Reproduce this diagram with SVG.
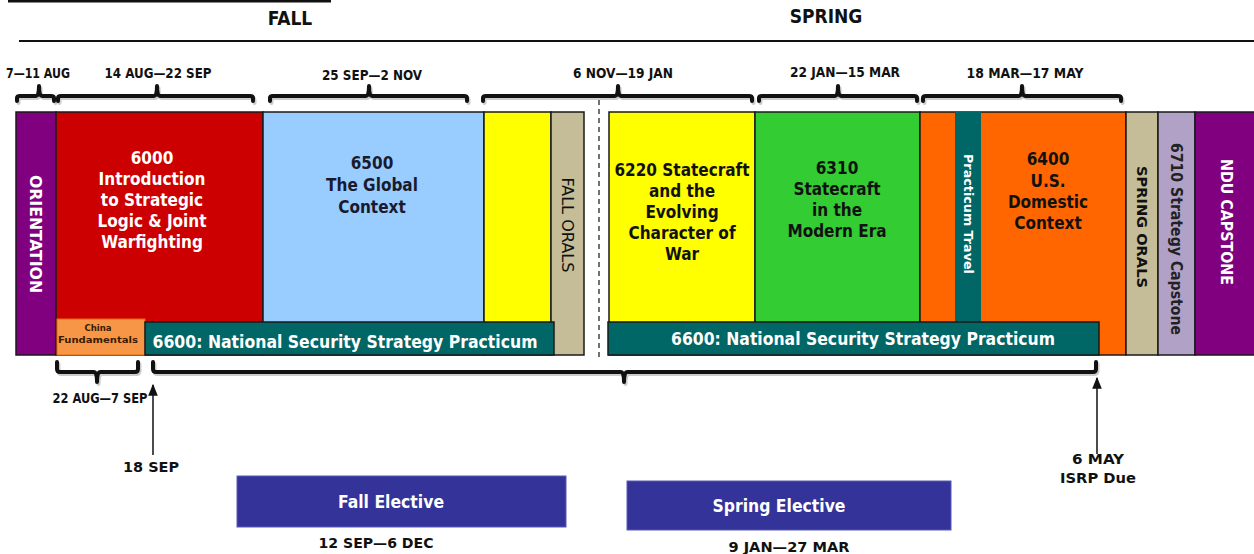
<svg xmlns="http://www.w3.org/2000/svg" width="1254" height="554" viewBox="0 0 1254 554">
<defs>
<style>
.col{stroke:#1a1a1a;stroke-width:1.5}
.t{font-family:"DejaVu Sans Condensed","DejaVu Sans",sans-serif;font-weight:bold;text-anchor:middle}
.w{fill:#ffffff}
.k{fill:#111111}
.brace{fill:none;stroke:#111;stroke-width:4;stroke-linejoin:round;stroke-linecap:round}
.shadow{fill:none;stroke:#999;stroke-width:4;stroke-linejoin:round;stroke-linecap:round;opacity:0.5}
.date{font-family:"DejaVu Sans Condensed","DejaVu Sans",sans-serif;font-weight:bold;font-size:14px;fill:#111;text-anchor:middle}
.arrow{stroke:#111;stroke-width:1.5;fill:none}
</style>
<marker id="ah" viewBox="0 0 10 10" refX="9" refY="5" markerWidth="8" markerHeight="8" orient="auto"><path d="M0,1 L10,5 L0,9 Z" fill="#111"/></marker>
</defs>
<rect width="1254" height="554" fill="#ffffff"/>

<g id="header">
<line x1="8" y1="1" x2="331" y2="1" stroke="#111" stroke-width="3"/>
<line x1="19" y1="41" x2="1254" y2="41" stroke="#111" stroke-width="2"/>
<text class="t k" x="290" y="25" font-size="19">FALL</text>
<text class="t k" x="826" y="23" font-size="19">SPRING</text>
</g>

<g id="connectors">
<g transform="translate(1.5,2)">
<path class="shadow" d="M17,101 L17,98 Q17,96 20,96 L36,96 Q39,96 39,86 Q39,96 42,96 L51,96 Q54,96 54,98 L54,101"/>
<path class="shadow" d="M58,101 L58,98 Q58,96 61,96 L154,96 Q157,96 157,86 Q157,96 160,96 L250,96 Q253,96 253,98 L253,101"/>
<path class="shadow" d="M270,101 L270,98 Q270,96 273,96 L366,96 Q369,96 369,86 Q369,96 372,96 L464,96 Q467,96 467,98 L467,101"/>
<path class="shadow" d="M483,101 L483,98 Q483,96 486,96 L615,96 Q618,96 618,86 Q618,96 621,96 L749,96 Q752,96 752,98 L752,101"/>
<path class="shadow" d="M759,101 L759,98 Q759,96 762,96 L835,96 Q838,96 838,86 Q838,96 841,96 L914,96 Q917,96 917,98 L917,101"/>
<path class="shadow" d="M923,101 L923,98 Q923,96 926,96 L1019,96 Q1022,96 1022,86 Q1022,96 1025,96 L1118,96 Q1121,96 1121,98 L1121,101"/>
<path class="shadow" d="M57,362 L57,369 Q57,372 60,372 L94,372 Q97,372 97,382 Q97,372 100,372 L135,372 Q138,372 138,369 L138,362"/>
<path class="shadow" d="M153,362 L153,369 Q153,372 156,372 L621,372 Q624,372 624,382 Q624,372 627,372 L1093,372 Q1096,372 1096,369 L1096,362"/>
</g>
<path class="brace" d="M17,101 L17,98 Q17,96 20,96 L36,96 Q39,96 39,86 Q39,96 42,96 L51,96 Q54,96 54,98 L54,101"/>
<path class="brace" d="M58,101 L58,98 Q58,96 61,96 L154,96 Q157,96 157,86 Q157,96 160,96 L250,96 Q253,96 253,98 L253,101"/>
<path class="brace" d="M270,101 L270,98 Q270,96 273,96 L366,96 Q369,96 369,86 Q369,96 372,96 L464,96 Q467,96 467,98 L467,101"/>
<path class="brace" d="M483,101 L483,98 Q483,96 486,96 L615,96 Q618,96 618,86 Q618,96 621,96 L749,96 Q752,96 752,98 L752,101"/>
<path class="brace" d="M759,101 L759,98 Q759,96 762,96 L835,96 Q838,96 838,86 Q838,96 841,96 L914,96 Q917,96 917,98 L917,101"/>
<path class="brace" d="M923,101 L923,98 Q923,96 926,96 L1019,96 Q1022,96 1022,86 Q1022,96 1025,96 L1118,96 Q1121,96 1121,98 L1121,101"/>
<path class="brace" d="M57,362 L57,369 Q57,372 60,372 L94,372 Q97,372 97,382 Q97,372 100,372 L135,372 Q138,372 138,369 L138,362"/>
<path class="brace" d="M153,362 L153,369 Q153,372 156,372 L621,372 Q624,372 624,382 Q624,372 627,372 L1093,372 Q1096,372 1096,369 L1096,362"/>
<line x1="599" y1="100" x2="599" y2="357" stroke="#444" stroke-width="1.5" stroke-dasharray="5,4"/>
<line class="arrow" x1="153" y1="455" x2="153" y2="385" marker-end="url(#ah)"/>
<line class="arrow" x1="1097" y1="454" x2="1097" y2="378" marker-end="url(#ah)"/>
</g>

<g id="date-labels">
<text class="date" x="38" y="78" textLength="64" lengthAdjust="spacingAndGlyphs">7—11 AUG</text>
<text class="date" x="158" y="78" textLength="107" lengthAdjust="spacingAndGlyphs">14 AUG—22 SEP</text>
<text class="date" x="372" y="80" textLength="100" lengthAdjust="spacingAndGlyphs">25 SEP—2 NOV</text>
<text class="date" x="623" y="78" textLength="100" lengthAdjust="spacingAndGlyphs">6 NOV—19 JAN</text>
<text class="date" x="845" y="77" textLength="110" lengthAdjust="spacingAndGlyphs">22 JAN—15 MAR</text>
<text class="date" x="1025" y="78" textLength="117" lengthAdjust="spacingAndGlyphs">18 MAR—17 MAY</text>
<text class="date" x="100" y="403" textLength="95" lengthAdjust="spacingAndGlyphs">22 AUG—7 SEP</text>
<text class="date" x="151" y="472" font-size="16" textLength="56" lengthAdjust="spacingAndGlyphs">18 SEP</text>
<text class="date" x="1098" y="464" font-size="16" textLength="52" lengthAdjust="spacingAndGlyphs">6 MAY</text>
<text class="date" x="1098" y="483" font-size="16" textLength="76" lengthAdjust="spacingAndGlyphs">ISRP Due</text>
<text class="date" x="376" y="548" font-size="16" textLength="115" lengthAdjust="spacingAndGlyphs">12 SEP—6 DEC</text>
<text class="date" x="789" y="552" font-size="16" textLength="121" lengthAdjust="spacingAndGlyphs">9 JAN—27 MAR</text>
</g>

<g id="orientation">
<rect class="col" x="16" y="112" width="40" height="243" fill="#800080"/>
<text class="t w" font-size="15" transform="translate(30,234) rotate(90)" textLength="118" lengthAdjust="spacingAndGlyphs">ORIENTATION</text>
</g>
<g id="c6000">
<rect class="col" x="56" y="112" width="207" height="243" fill="#CC0000"/>
<text class="t w" font-size="17"><tspan x="152" y="164">6000</tspan><tspan x="152" y="185">Introduction</tspan><tspan x="152" y="206">to Strategic</tspan><tspan x="152" y="227">Logic &amp; Joint</tspan><tspan x="152" y="248">Warfighting</tspan></text>
</g>
<g id="c6500">
<rect class="col" x="263" y="112" width="221" height="243" fill="#99CCFF"/>
<text class="t" fill="#1a1a2e" font-size="17"><tspan x="372" y="169">6500</tspan><tspan x="372" y="191">The Global</tspan><tspan x="372" y="213">Context</tspan></text>
</g>
<g id="fall-yellow">
<rect class="col" x="484" y="112" width="67" height="243" fill="#FFFF00"/>
</g>
<g id="fall-orals">
<rect class="col" x="551" y="112" width="33" height="243" fill="#C4BD97"/>
<text class="t k" font-size="15" transform="translate(562,225) rotate(90)" style="font-weight:normal" textLength="95" lengthAdjust="spacingAndGlyphs">FALL ORALS</text>
</g>
<g id="c6220">
<rect class="col" x="609" y="112" width="146" height="243" fill="#FFFF00"/>
<text class="t k" font-size="17"><tspan x="682" y="176">6220 Statecraft</tspan><tspan x="682" y="197">and the</tspan><tspan x="682" y="218">Evolving</tspan><tspan x="682" y="239">Character of</tspan><tspan x="682" y="260">War</tspan></text>
</g>
<g id="c6310">
<rect class="col" x="755" y="112" width="165" height="243" fill="#33CC33"/>
<text class="t" fill="#111" font-size="17"><tspan x="837" y="174">6310</tspan><tspan x="837" y="195">Statecraft</tspan><tspan x="837" y="216">in the</tspan><tspan x="837" y="237">Modern Era</tspan></text>
</g>
<g id="c6400">
<rect class="col" x="920" y="112" width="206" height="243" fill="#FF6600"/>
<text class="t k" font-size="17"><tspan x="1048" y="165">6400</tspan><tspan x="1048" y="187">U.S.</tspan><tspan x="1048" y="208">Domestic</tspan><tspan x="1048" y="229">Context</tspan></text>
</g>
<g id="practicum-travel">
<rect x="955" y="112" width="26" height="212" fill="#006666"/>
<text class="t w" font-size="12" transform="translate(964,214) rotate(90)" textLength="120" lengthAdjust="spacingAndGlyphs">Practicum Travel</text>
</g>
<g id="spring-orals">
<rect class="col" x="1126" y="112" width="32" height="243" fill="#C4BD97"/>
<text class="t k" font-size="14" transform="translate(1137,227) rotate(90)" textLength="122" lengthAdjust="spacingAndGlyphs">SPRING ORALS</text>
</g>
<g id="c6710">
<rect class="col" x="1158" y="112" width="37" height="243" fill="#B2A1C7"/>
<text class="t" fill="#222" font-size="15" transform="translate(1171,239) rotate(90)" textLength="192" lengthAdjust="spacingAndGlyphs">6710 Strategy Capstone</text>
</g>
<g id="ndu-capstone">
<rect class="col" x="1195" y="112" width="60" height="243" fill="#800080"/>
<text class="t w" font-size="15" transform="translate(1221,222) rotate(90)" textLength="126" lengthAdjust="spacingAndGlyphs">NDU CAPSTONE</text>
</g>
<g id="china-fundamentals">
<rect x="57" y="319" width="88" height="36" fill="#F79646" stroke="#E36C09" stroke-width="1"/>
<text class="t" fill="#3a1a00" font-size="9.5"><tspan x="98" y="331">China</tspan><tspan x="98" y="343" textLength="80" lengthAdjust="spacingAndGlyphs">Fundamentals</tspan></text>
</g>
<g id="p6600-fall">
<rect class="col" x="145" y="322" width="409" height="33" fill="#006666"/>
<text class="t w" font-size="17" x="345" y="348" textLength="385" lengthAdjust="spacingAndGlyphs">6600: National Security Strategy Practicum</text>
</g>
<g id="p6600-spring">
<rect class="col" x="608" y="322" width="491" height="33" fill="#006666"/>
<text class="t w" font-size="17" x="863" y="345" textLength="384" lengthAdjust="spacingAndGlyphs">6600: National Security Strategy Practicum</text>
</g>
<g id="fall-elective">
<rect x="237" y="476" width="329" height="51" fill="#333399" stroke="#5a5ab8" stroke-width="1"/>
<text class="t w" font-size="17" x="391" y="508" textLength="106" lengthAdjust="spacingAndGlyphs">Fall Elective</text>
</g>
<g id="spring-elective">
<rect x="627" y="481" width="324" height="49" fill="#333399" stroke="#5a5ab8" stroke-width="1"/>
<text class="t w" font-size="17" x="779" y="512" textLength="133" lengthAdjust="spacingAndGlyphs">Spring Elective</text>
</g>
</svg>
